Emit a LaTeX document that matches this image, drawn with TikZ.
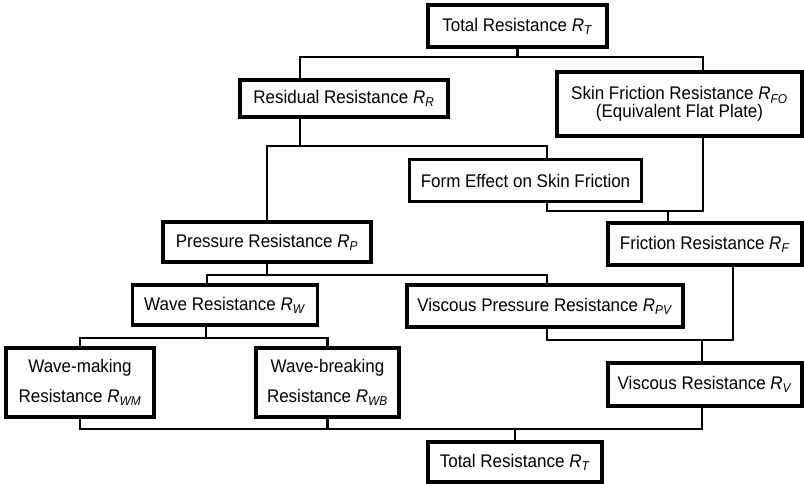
\documentclass[tikz,border=0pt]{standalone}
\usepackage{fontspec}
\setmainfont{Liberation Sans}[FakeStretch=0.93]
\usetikzlibrary{positioning}
\newcommand{\resR}[1]{\textit{R}\textsubscript{\textit{#1}}}

\begin{document}
\begin{tikzpicture}[x=0.025cm,y=-0.025cm,
  box/.style={draw, line width=2.2pt, inner sep=0pt, align=center,
    font=\fontsize{13}{14}\selectfont},
  size/.style 2 args={minimum width=#1*0.025cm, minimum height=#2*0.025cm},
  link/.style={line width=2pt}]
  \useasboundingbox (0,0) rectangle (804,483);

  % boxes, top to bottom
  \node[box, size={179}{42}] (RTa) at (517.5,26) {Total Resistance \resR{T}};
  \node[box, size={208}{37}] (RR) at (344,98.5) {Residual Resistance \resR{R}};
  \node[box, size={245}{64}, font=\fontsize{13}{12.5}\selectfont] (RFO) at (679.5,104)
    {Skin Friction Resistance \resR{FO}\\(Equivalent Flat Plate)};
  \node[box, size={232}{42}] (FE) at (525.5,180.5) {Form Effect on Skin Friction};
  \node[box, size={208}{40}] (RP) at (267,242) {Pressure Resistance \resR{P}};
  \node[box, size={194}{42}] (RF) at (705,244) {Friction Resistance \resR{F}};
  \node[box, size={185}{40}] (RW) at (225,305) {Wave Resistance \resR{W}};
  \node[box, size={276}{42}] (RPV) at (545,306) {Viscous Pressure Resistance \resR{PV}};
  \node[box, size={148}{69}, font=\fontsize{13}{21}\selectfont] (RWM) at (80,382.5)
    {Wave-making\\Resistance \resR{WM}};
  \node[box, size={143}{69}, font=\fontsize{13}{21}\selectfont] (RWB) at (327.5,382.5)
    {Wave-breaking\\Resistance \resR{WB}};
  \node[box, size={194}{43}] (RV) at (705,384.5) {Viscous Resistance \resR{V}};
  \node[box, size={174}{40}] (RTb) at (515,462) {Total Resistance \resR{T}};

  % total -> residual + skin friction
  \draw[link] (RTa) -- (RTa |- 0,57);
  \draw[link] (300,0 |- RR.north) |- (703,57) -- (703,0 |- RFO.north);
  % residual -> pressure + form effect
  \draw[link] (300,0 |- RR.south) -- (300,146);
  \draw[link] (RP.north) |- (547,146) -- (547,0 |- FE.north);
  % form effect + skin friction -> friction
  \draw[link] (547,0 |- FE.south) |- (703,211) -- (703,0 |- RFO.south);
  \draw[link] (668,211) -- (668,0 |- RF.north);
  % pressure -> wave + viscous pressure
  \draw[link] (RP) -- (RP |- 0,275);
  \draw[link] (207,0 |- RW.north) |- (547,275) -- (547,0 |- RPV.north);
  % viscous pressure + friction -> viscous
  \draw[link] (547,0 |- RPV.south) |- (733,340) -- (733,0 |- RF.south);
  \draw[link] (702,340) -- (702,0 |- RV.north);
  % wave -> wave-making + wave-breaking
  \draw[link] (206,0 |- RW.south) -- (206,338);
  \draw[link] (RWM.north) |- (RWB.north |- 0,338) -- (RWB.north);
  % all -> total
  \draw[link] (RWM.south) |- (702,429) -- (702,0 |- RV.south);
  \draw[link] (RWB.south) -- (RWB.south |- 0,429);
  \draw[link] (RTb.north |- 0,429) -- (RTb.north);
\end{tikzpicture}
\end{document}
